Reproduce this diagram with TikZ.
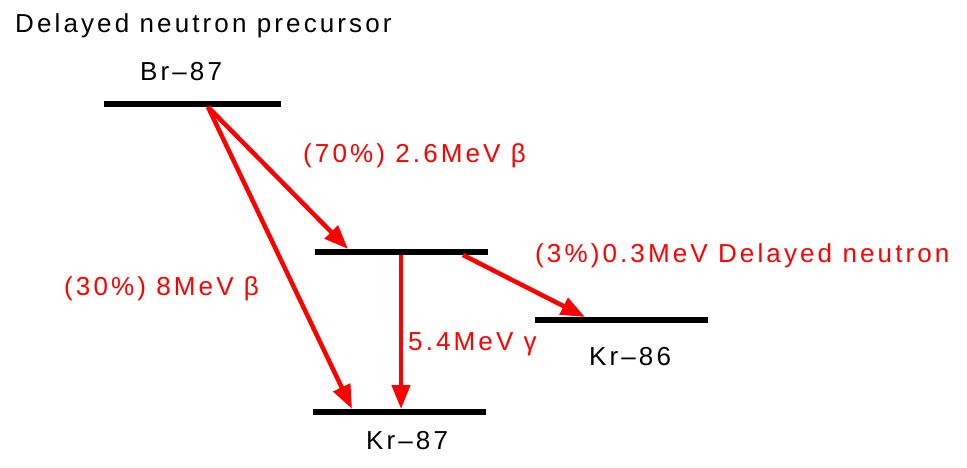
\documentclass[tikz,border=0pt]{standalone}
\usepackage{fontspec}
\setmainfont{Liberation Sans}[LetterSpace=12]
\usetikzlibrary{arrows.meta}

\begin{document}
\begin{tikzpicture}[x=1pt, y=-1pt, >={Triangle[length=24pt,width=18pt]},
	   font=\fontsize{26pt}{30pt}\selectfont,
	   lvl/.style={line width=6pt},
	   tr/.style={->, red, line width=4.5pt},
	   lab/.style={anchor=base west, inner sep=0pt},
	   rlab/.style={lab, text=red}]
	  \useasboundingbox (0,0) rectangle (967,467);
	  % energy levels
	  \draw[lvl] (104,104) -- (281,104);
	  \draw[lvl] (315,252) -- (488,252);
	  \draw[lvl] (535,320) -- (708,320);
	  \draw[lvl] (313,412) -- (486,412);
	  \coordinate (br) at (208,107);
	  \coordinate (exc) at (348,249);
	  \coordinate (excg) at (401,255);
	  \coordinate (excn) at (463,255);
	  \coordinate (kr) at (352,409);
	  \coordinate (krg) at (401,409);
	  \coordinate (kr86) at (585,317);
	  % labels
	  \node[lab] (title) at (15,32) {Delayed neutron precursor};
	  \node[lab] (brl) at (140,80) {Br–87};
	  \node[lab] (kr86l) at (589,365) {Kr–86};
	  \node[lab] (krl) at (366,449) {Kr–87};
	  \node[rlab] (b70) at (303,162) {(70\%) 2.6MeV β};
	  \node[rlab] (b30) at (64,295) {(30\%) 8MeV β};
	  \node[rlab] (dn) at (535,262) {(3\%)0.3MeV Delayed neutron};
	  \node[rlab] (gam) at (408,350) {5.4MeV γ};
	  % transitions
	  \draw[tr] (br) -- (exc);
	  \draw[tr] (br) -- (kr);
	  \draw[tr] (excg) -- (krg);
	  \draw[tr] (excn) -- (kr86);
	\end{tikzpicture}
\end{document}
